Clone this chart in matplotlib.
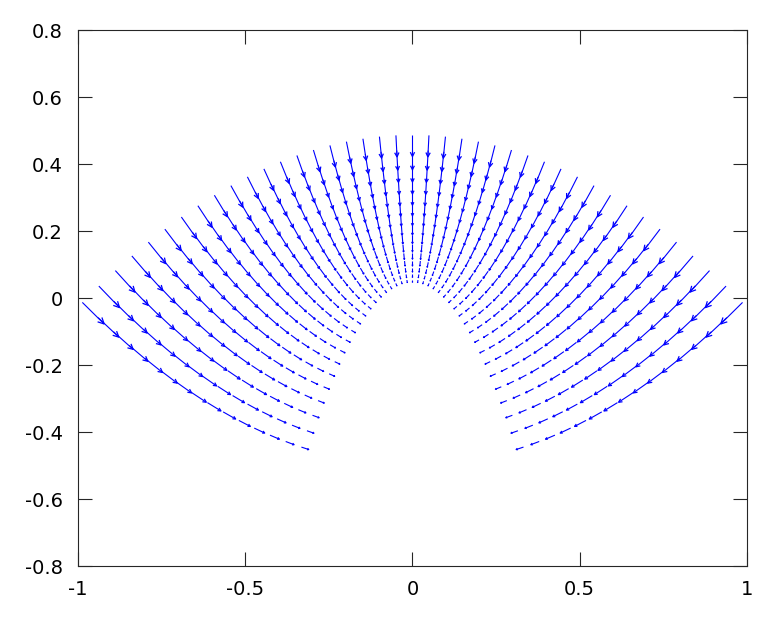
import numpy as np
import matplotlib
matplotlib.use("Agg")
import matplotlib.pyplot as plt
from matplotlib.collections import LineCollection

# Define data: the field is sampled on parabolic coordinates (u, v)
u_levels = [-1.0, -0.95, -0.9, -0.85, -0.8, -0.75, -0.7, -0.65, -0.6, -0.55,
            -0.5, -0.45, -0.4, -0.35, -0.3, -0.25, -0.2, -0.15, -0.1, -0.05,
            0.0, 0.05, 0.1, 0.15, 0.2, 0.25, 0.3, 0.35, 0.4, 0.45,
            0.5, 0.55, 0.6, 0.65, 0.7, 0.75, 0.8, 0.85, 0.9, 0.95, 1.0]
v_levels = [0.332, 0.379, 0.426, 0.473, 0.519, 0.566, 0.613, 0.660,
            0.707, 0.753, 0.800, 0.847, 0.894, 0.940, 0.987]
xticks = [-1, -0.5, 0, 0.5, 1]
yticks = [-0.8, -0.6, -0.4, -0.2, 0, 0.2, 0.4, 0.6, 0.8]
arrow_scale = 0.066
head_size = 0.2

# Grid points and vectors (flow towards the focus along the parabolas).
uu, vv = np.meshgrid(u_levels, v_levels)
x = uu * vv
y = (vv ** 2 - uu ** 2) / 2
r = np.hypot(x, y)
du = -x * arrow_scale
dv = -(y + r) * arrow_scale

x = x.ravel(); y = y.ravel(); du = du.ravel(); dv = dv.ravel()
tip_x = x + du
tip_y = y + dv

# Shafts and open (octave-style) arrow heads.
shafts = [[(a, b), (c, d)] for a, b, c, d in zip(x, y, tip_x, tip_y)]
base_x = x + du * (1 - head_size)
base_y = y + dv * (1 - head_size)
px = dv * head_size / 2
py = -du * head_size / 2
heads = []
for i in range(len(x)):
    heads.append([(base_x[i] + px[i], base_y[i] + py[i]),
                  (tip_x[i], tip_y[i]),
                  (base_x[i] - px[i], base_y[i] - py[i])])

# Make plot.
fig = plt.figure(figsize=(7.76, 6.22), dpi=100)
ax = fig.add_axes([0.1005, 0.090, 0.862, 0.8615])
ax.add_collection(LineCollection(shafts, colors='#0000ff', linewidths=0.8))
ax.add_collection(LineCollection(heads, colors='#0000ff', linewidths=0.9))

# Customize plot.
ax.set_xlim(-1, 1)
ax.set_ylim(-0.8, 0.8)
ax.set_xticks(xticks)
ax.set_xticklabels(['-1', '-0.5', '0', '0.5', '1'])
ax.set_yticks(yticks)
ax.set_yticklabels(['-0.8', '-0.6', '-0.4', '-0.2', '0', '0.2', '0.4', '0.6', '0.8'])
ax.tick_params(axis='both', direction='in', length=10, width=0.8,
               color='#262626', labelsize=14, top=True, right=True)
ax.tick_params(axis='y', pad=11)
ax.tick_params(axis='x', pad=10)
for sp in ax.spines.values():
    sp.set_linewidth(0.8)
    sp.set_color('#262626')

fig.savefig('out.png', dpi=100)
